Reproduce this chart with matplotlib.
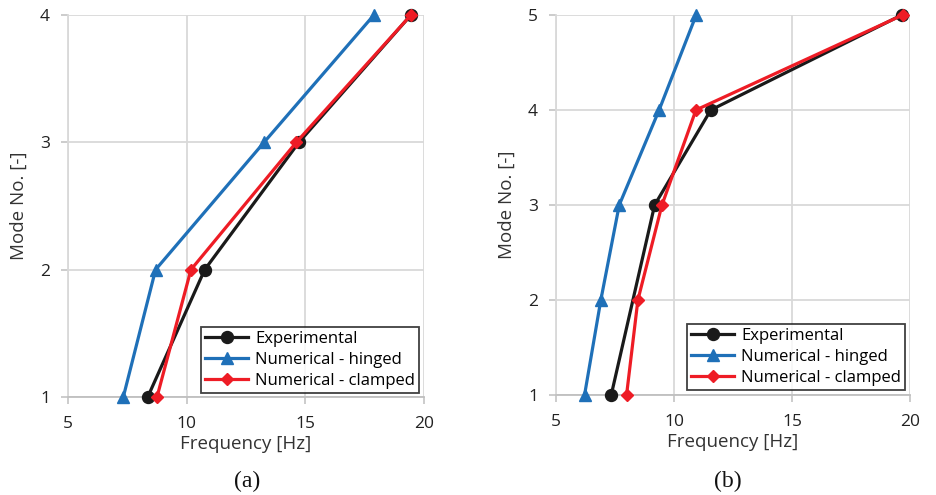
import matplotlib
matplotlib.use("Agg")
import matplotlib.pyplot as plt

# Panel (a)
modes_a = [1, 2, 3, 4]
exp_a = [8.36, 10.76, 14.73, 19.45]
hinged_a = [7.33, 8.69, 13.26, 17.89]
clamped_a = [8.75, 10.18, 14.62, 19.45]

# Panel (b) - experimental mode 2 was not identified
modes_b = [1, 2, 3, 4, 5]
exp_modes_b = [1, 3, 4, 5]
exp_b = [7.34, 9.18, 11.56, 19.65]
hinged_b = [6.21, 6.90, 7.68, 9.37, 10.94]
clamped_b = [7.99, 8.47, 9.49, 10.93, 19.69]

x_ticks = [5, 10, 15, 20]
labels = ["Experimental", "Numerical - hinged", "Numerical - clamped"]
panel_tags = ["(a)", "(b)"]

BLACK = "#1a1a1a"
BLUE = "#1f70b8"
RED = "#ee1c25"
GRID = "#d9d9d9"
FONT = "Open Sans"

fig = plt.figure(figsize=(9.36, 4.95), dpi=100)
ax_a = fig.add_axes([68 / 936, 1 - 397 / 495, (424 - 68) / 936, (397 - 15) / 495])
ax_b = fig.add_axes([556 / 936, 1 - 395 / 495, (910 - 556) / 936, (395 - 15) / 495])


def draw(ax, ex_m, ex, hm, hv, cm, cv, ymax, tag, tag_x, leg_anchor):
    ax.plot(ex, ex_m, color=BLACK, lw=2.3, marker="o", ms=8.6, clip_on=False,
            zorder=3, label=labels[0])
    ax.plot(hv, hm, color=BLUE, lw=2.3, marker="^", ms=8, clip_on=False,
            zorder=4, label=labels[1])
    ax.plot(cv, cm, color=RED, lw=2.3, marker="D", ms=6, clip_on=False,
            zorder=5, label=labels[2])
    ax.set_xlim(5, 20)
    ax.set_ylim(1, ymax)
    ax.set_xticks(x_ticks)
    ax.set_yticks(list(range(1, ymax + 1)))
    ax.grid(True, color=GRID, lw=1.3)
    ax.set_axisbelow(True)
    for s in ("top", "right"):
        ax.spines[s].set_visible(False)
    ax.spines["left"].set_color(GRID)
    ax.spines["left"].set_linewidth(1.3)
    ax.spines["bottom"].set_color("#bfbfbf")
    ax.spines["bottom"].set_linewidth(1.3)
    ax.tick_params(direction="out", length=5, width=1.1, color="#bfbfbf",
                   labelsize=12.5, labelcolor="#222222")
    ax.tick_params(axis="x", pad=9)
    ax.tick_params(axis="y", pad=8)
    for t in ax.get_xticklabels() + ax.get_yticklabels():
        t.set_fontfamily(FONT)
    ax.set_xlabel("Frequency [Hz]", fontsize=13.5, family=FONT, color="#333333",
                  labelpad=2)
    ax.set_ylabel("Mode No. [-]", fontsize=13.5, family=FONT, color="#333333",
                  labelpad=9)
    leg = ax.legend(loc="lower right", bbox_to_anchor=leg_anchor,
                    bbox_transform=fig.transFigure,
                    frameon=True, fancybox=False, edgecolor="#111111",
                    prop={"family": FONT, "size": 12}, handlelength=2.6,
                    handletextpad=0.4, borderpad=0.25, labelspacing=0.3,
                    borderaxespad=0)
    leg.get_frame().set_linewidth(1.3)
    fig.text(tag_x, 1 - 481 / 495, tag, ha="center", va="center",
             fontsize=17, family="Liberation Serif", color="#111111")


draw(ax_a, modes_a, exp_a, modes_a, hinged_a, modes_a, clamped_a, 4, panel_tags[0],
     247 / 936, (419 / 936, 1 - 393 / 495))
draw(ax_b, exp_modes_b, exp_b, modes_b, hinged_b, modes_b, clamped_b, 5, panel_tags[1],
     728 / 936, (905 / 936, 1 - 390 / 495))

fig.savefig("out.png", dpi=100)
